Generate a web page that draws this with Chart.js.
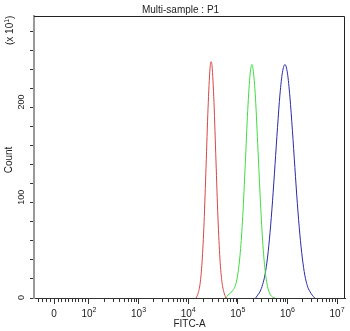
<!DOCTYPE html>
<html>
<head>
<meta charset="utf-8">
<script src="https://cdn.jsdelivr.net/npm/chart.js@4.4.1/dist/chart.umd.min.js"></script>
<style>
  html, body { margin: 0; padding: 0; background: #fff; }
  #wrap { width: 350px; height: 331px; }
</style>
</head>
<body>
<div id="wrap"><canvas id="c"></canvas></div>
<script>
// FITC-A histograms, x in display decades (log10 of FITC-A), y in counts x10.
const redX   = [4.16, 4.20, 4.24, 4.28, 4.32, 4.36, 4.40, 4.44, 4.46, 4.48, 4.52, 4.56, 4.60, 4.64, 4.68, 4.72, 4.76];
const redY   = [0, 5, 15, 38, 79, 138, 199, 241, 248, 244, 205, 144, 84, 41, 17, 6, 0];

const greenX = [4.76, 4.80, 4.85, 4.90, 4.95, 5.00, 5.05, 5.10, 5.15, 5.20, 5.25, 5.285, 5.30, 5.35, 5.40, 5.45, 5.50, 5.55, 5.60, 5.65, 5.70, 5.75];
const greenY = [0, 3, 5, 8, 13, 25, 48, 86, 140, 197, 236, 245, 243, 215, 163, 107, 60, 29, 12, 4, 1, 0];

const blueX  = [5.36, 5.40, 5.45, 5.50, 5.55, 5.60, 5.65, 5.70, 5.75, 5.80, 5.85, 5.90, 5.95, 6.00, 6.05, 6.10, 6.15, 6.20, 6.25, 6.30, 6.35, 6.40, 6.45, 6.50, 6.55];
const blueY  = [0, 3, 7, 14, 25, 43, 69, 102, 140, 179, 214, 237, 245, 236, 211, 176, 137, 99, 67, 42, 24, 13, 7, 3, 0];

// axis ticks: "0" sits in the linear part of the biexponential axis
const xTickPos  = [1.297, 2, 3, 4, 5, 6, 7];
const xTickBase = ['0', '10', '10', '10', '10', '10', '10'];
const xTickExp  = ['', '2', '3', '4', '5', '6', '7'];
const xLinearMinor = [0.977, 1.057, 1.137, 1.217, 1.367, 1.438, 1.508, 1.578, 1.649, 1.719, 1.789, 1.859, 1.930];
const yTickLabels = [0, 100, 200];

const FONT = "'Liberation Sans', Arial, sans-serif";

const xMinorPos = xLinearMinor.slice();
for (let d = 2; d <= 6; d++) {
  for (let k = 2; k <= 9; k++) xMinorPos.push(d + Math.log10(k));
}

const pts = (xs, ys) => xs.map((x, i) => ({ x, y: ys[i] }));

// Axis texts, minor ticks and the top/right frame are painted here.
const axisText = {
  id: 'axisText',
  afterDraw(chart) {
    const { ctx, chartArea: a, scales: { x, y } } = chart;
    ctx.save();

    ctx.strokeStyle = '#222';
    ctx.lineWidth = 1;
    ctx.beginPath();
    ctx.moveTo(a.left, a.top + 0.5);
    ctx.lineTo(a.right - 0.5, a.top + 0.5);
    ctx.lineTo(a.right - 0.5, a.bottom);
    ctx.stroke();

    ctx.strokeStyle = '#333';
    ctx.beginPath();
    xMinorPos.forEach(v => {
      const px = Math.round(x.getPixelForValue(v)) + 0.5;
      ctx.moveTo(px, a.bottom);
      ctx.lineTo(px, a.bottom + 4);
    });
    ctx.stroke();

    ctx.fillStyle = '#222';
    ctx.textAlign = 'left';
    ctx.textBaseline = 'alphabetic';
    xTickPos.forEach((v, i) => {
      const px = x.getPixelForValue(v);
      ctx.font = '10px ' + FONT;
      const bw = ctx.measureText(xTickBase[i]).width;
      ctx.font = '7px ' + FONT;
      const ew = xTickExp[i] ? ctx.measureText(xTickExp[i]).width : 0;
      const left = px - (bw + ew) / 2;
      ctx.font = '10px ' + FONT;
      ctx.fillText(xTickBase[i], left, 317);
      if (xTickExp[i]) {
        ctx.font = '7px ' + FONT;
        ctx.fillText(xTickExp[i], left + bw, 312);
      }
    });

    ctx.font = '10px ' + FONT;
    ctx.textAlign = 'center';
    ctx.fillText('FITC-A', (a.left + a.right) / 2, 327);

    // rotated texts on the left side
    const vtext = (str, cx, cy, align) => {
      ctx.save();
      ctx.translate(cx, cy);
      ctx.rotate(-Math.PI / 2);
      ctx.textAlign = align;
      ctx.textBaseline = 'middle';
      ctx.fillText(str, 0, 0);
      ctx.restore();
    };
    ctx.font = '9px ' + FONT;
    yTickLabels.forEach(v => vtext(String(v), 22, y.getPixelForValue(v) + 2, 'left'));

    ctx.font = '10px ' + FONT;
    vtext('Count', 9, 160, 'center');

    // multiplier "(x 10^1)"
    ctx.save();
    ctx.translate(10, 45);
    ctx.rotate(-Math.PI / 2);
    ctx.textAlign = 'left';
    ctx.textBaseline = 'middle';
    ctx.font = '10px ' + FONT;
    let w = ctx.measureText('(x 10').width;
    ctx.fillText('(x 10', 0, 0);
    ctx.font = '7px ' + FONT;
    ctx.fillText('1', w, -3);
    w += ctx.measureText('1').width;
    ctx.font = '10px ' + FONT;
    ctx.fillText(')', w, 0);
    ctx.restore();

    ctx.restore();
  }
};

new Chart(document.getElementById('c'), {
  type: 'line',
  data: {
    datasets: [
      { label: 'red',   data: pts(redX, redY),     borderColor: '#d84545' },
      { label: 'green', data: pts(greenX, greenY), borderColor: '#3fdc3f' },
      { label: 'blue',  data: pts(blueX, blueY),   borderColor: '#2a2aa8' },
    ],
  },
  options: {
    responsive: true,
    maintainAspectRatio: false,
    animation: false,
    devicePixelRatio: 1,
    layout: { padding: { left: 16, right: 5, top: 0, bottom: 0 } },
    elements: {
      line: { borderWidth: 1, cubicInterpolationMode: 'monotone', fill: false },
      point: { radius: 0, hoverRadius: 0 },
    },
    plugins: {
      legend: { display: false },
      tooltip: { enabled: false },
      title: {
        display: true,
        text: 'Multi-sample : P1',
        color: '#222',
        font: { family: FONT, size: 10, weight: 'normal' },
        padding: { top: 4, bottom: 0 },
      },
    },
    scales: {
      x: {
        type: 'linear',
        min: 0.893,
        max: 7.16,
        afterFit: s => { s.height = 33; },
        afterBuildTicks: s => { s.ticks = xTickPos.map(v => ({ value: v })); },
        ticks: { display: false },
        grid: { drawOnChartArea: false, drawTicks: true, tickLength: 6, tickColor: '#333' },
        border: { color: '#333', width: 1 },
      },
      y: {
        type: 'linear',
        min: 0,
        max: 296,
        afterFit: s => { s.width = 18; },
        ticks: { display: false, stepSize: 20, includeBounds: false },
        grid: { drawOnChartArea: false, drawTicks: true, tickLength: 4, tickColor: '#333' },
        border: { color: '#999', width: 2 },
      },
    },
  },
  plugins: [axisText],
});
</script>
</body>
</html>
